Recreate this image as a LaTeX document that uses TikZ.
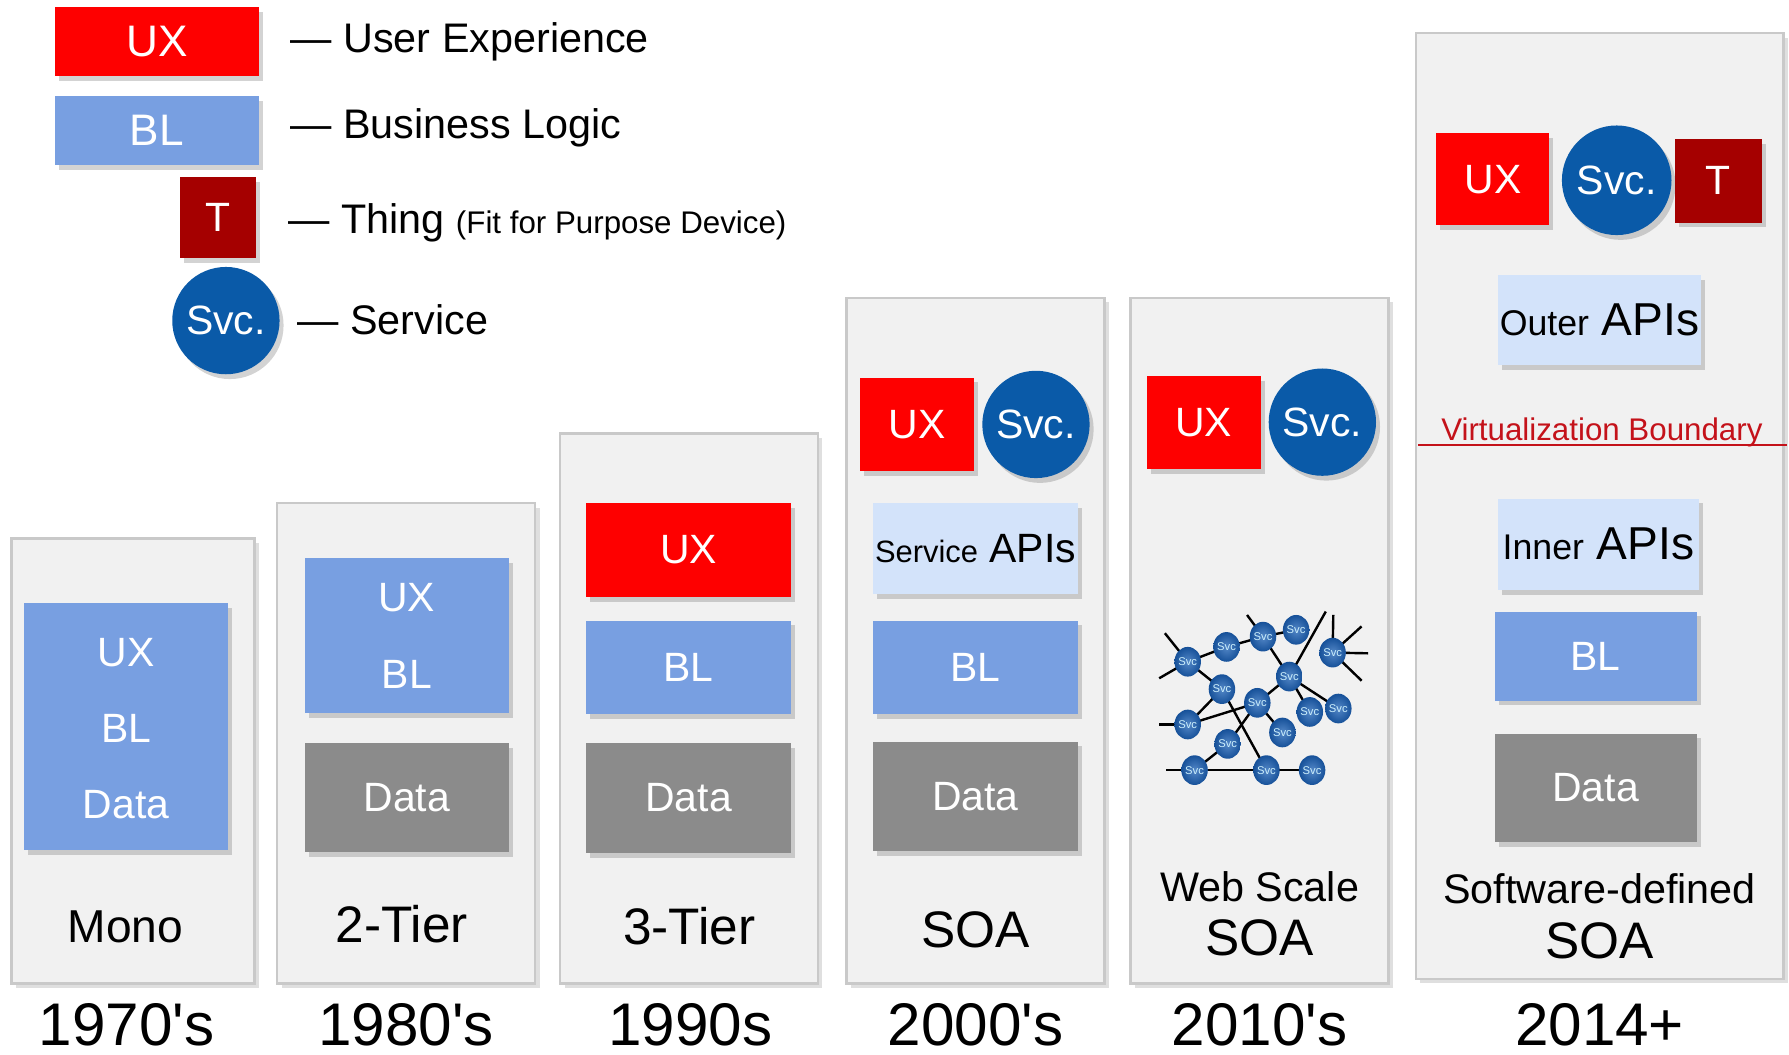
\documentclass[tikz,border=0pt]{standalone}
\usepackage{fontspec}
\setmainfont{Liberation Sans}
\usepackage{xcolor}
\usetikzlibrary{positioning,calc,shadows,shapes.geometric}

\definecolor{uxred}{HTML}{FE0000}
\definecolor{blblue}{HTML}{789FE1}
\definecolor{datagray}{HTML}{8B8B8B}
\definecolor{thingred}{HTML}{A50000}
\definecolor{svcblue}{HTML}{0A5AA8}
\definecolor{apiblue}{HTML}{D3E3FA}
\definecolor{panelfill}{HTML}{F1F1F1}
\definecolor{panelline}{HTML}{C9C9C9}
\definecolor{virtred}{HTML}{C4121A}
\definecolor{netblue}{HTML}{1A5FB4}

\begin{document}
\begin{tikzpicture}[x=0.01cm, y=-0.01cm,
    panel/.style={draw=panelline, fill=panelfill, line width=0.6pt,
      drop shadow={shadow xshift=1.1pt, shadow yshift=-1.1pt, opacity=0.25}},
    tierbox/.style={inner sep=0pt, text=white, font=\fontsize{10.2}{12}\selectfont,
      drop shadow={shadow xshift=1pt, shadow yshift=-1.2pt, opacity=0.35}},
    uxbox/.style={tierbox, fill=uxred},
    blbox/.style={tierbox, fill=blblue},
    databox/.style={tierbox, fill=datagray},
    thingbox/.style={tierbox, fill=thingred},
    apibox/.style={tierbox, fill=apiblue, text=black},
    svcball/.style={tierbox, circle, fill=svcblue, minimum size=0.94cm},
    boxtext/.style={text=white, inner sep=0pt, font=\fontsize{10.2}{12}\selectfont},
    legendtext/.style={anchor=base west, inner sep=0pt, font=\fontsize{10.3}{12}\selectfont},
    tierlabel/.style={inner sep=0pt, font=\fontsize{12.8}{15}\selectfont},
    yearlabel/.style={inner sep=0pt, font=\fontsize{15}{18}\selectfont},
    svcdot/.style={ellipse, minimum width=0.19cm, minimum height=0.26cm, inner sep=0pt,
      shading=radial, inner color=netblue!75!white, outer color=netblue!85!black,
      text=white!80!cyan, font=\fontsize{2.8}{3}\selectfont},
    netline/.style={line width=0.6pt, black}
  ]
    \useasboundingbox (0,0) rectangle (1568,924);

    % Legend
    \node[uxbox, minimum width=1.79cm, minimum height=0.61cm, font=\fontsize{11}{13}\selectfont] (lgux) at (137.5,36.5) {UX};
    \node[blbox, minimum width=1.79cm, minimum height=0.61cm, font=\fontsize{11}{13}\selectfont] (lgbl) at (137.5,114.5) {BL};
    \node[thingbox, minimum width=0.66cm, minimum height=0.71cm] (lgt) at (191,190.5) {T};
    \node[svcball] (lgsvc) at (198,281) {Svc.};

    \node[legendtext] (lguxtext) at (254,46) {— User Experience};
    \node[legendtext] (lgbltext) at (254,121) {— Business Logic};
    \node[legendtext] (lgttext) at (252,205) {— Thing {\fontsize{7.8}{9}\selectfont(Fit for Purpose Device)}};
    \node[legendtext] (lgsvctext) at (260,293) {— Service};

    % Panels
    \draw[panel] (10,472) rectangle (223,862);
    \draw[panel] (243,441) rectangle (469,862);
    \draw[panel] (491,380) rectangle (717,862);
    \draw[panel] (742,261) rectangle (968,862);
    \draw[panel] (991,261) rectangle (1217,862);
    \draw[panel] (1241,29) rectangle (1563,858);

    % Mono
    \node[blbox, minimum width=1.79cm, minimum height=2.16cm] (monobox) at (110.5,637) {};
    \node[boxtext] (monoux) at (110.5,572) {UX};
    \node[boxtext] (monobl) at (110.5,638) {BL};
    \node[boxtext] (monodata) at (110.5,705) {Data};
    \node[tierlabel, font=\fontsize{11.5}{14}\selectfont] (monolabel) at (110,812) {Mono};

    % 2-Tier
    \node[blbox, minimum width=1.79cm, minimum height=1.36cm] (twobl) at (356.5,557) {};
    \node[boxtext] (twouxtext) at (356.5,524) {UX};
    \node[boxtext] (twobltext) at (356.5,591) {BL};
    \node[databox, minimum width=1.79cm, minimum height=0.96cm] (twodata) at (356.5,699) {Data};
    \node[tierlabel] (twolabel) at (352,810) {2-Tier};

    % 3-Tier
    \node[uxbox, minimum width=1.79cm, minimum height=0.82cm] (threeux) at (603.5,482) {UX};
    \node[blbox, minimum width=1.79cm, minimum height=0.82cm] (threebl) at (603.5,585) {BL};
    \node[databox, minimum width=1.79cm, minimum height=0.97cm] (threedata) at (603.5,699.5) {Data};
    \node[tierlabel] (threelabel) at (604,812) {3-Tier};

    % SOA
    \node[uxbox, minimum width=1.00cm, minimum height=0.82cm] (soaux) at (804,372) {UX};
    \node[svcball] (soasvc) at (908,372) {Svc.};
    \node[apibox, minimum width=1.80cm, minimum height=0.80cm] (soaapi) at (855,481)
      {{\fontsize{7.7}{9}\selectfont Service} APIs};
    \node[blbox, minimum width=1.80cm, minimum height=0.82cm] (soabl) at (855,585) {BL};
    \node[databox, minimum width=1.80cm, minimum height=0.96cm] (soadata) at (855,698) {Data};
    \node[tierlabel] (soalabel) at (855,815) {SOA};

    % Web Scale SOA
    \node[uxbox, minimum width=1.00cm, minimum height=0.81cm] (webux) at (1055,370.5) {UX};
    \node[svcball] (websvc) at (1159,370) {Svc.};
    \coordinate (n1) at (1041,580);
    \coordinate (n2) at (1075,567);
    \coordinate (n3) at (1107,558);
    \coordinate (n4) at (1136,552);
    \coordinate (n5) at (1168,572);
    \coordinate (n6) at (1130,593);
    \coordinate (n7) at (1071,604);
    \coordinate (n8) at (1102,616);
    \coordinate (n9) at (1148,624);
    \coordinate (n10) at (1173,621);
    \coordinate (n11) at (1041,635);
    \coordinate (n12) at (1124,642);
    \coordinate (n13) at (1076,652);
    \coordinate (n14) at (1047,675);
    \coordinate (n15) at (1110,675);
    \coordinate (n16) at (1150,675);
    \coordinate (s3) at (1093,539);
    \coordinate (s6) at (1162,536);
    \coordinate (s1a) at (1021,555);
    \coordinate (s1b) at (1016,594.5);
    \coordinate (s11) at (1016,635);
    \coordinate (s14) at (1022,675);
    \coordinate (s5a) at (1168.6,539);
    \coordinate (s5b) at (1193.4,549);
    \coordinate (s5c) at (1199.2,572.6);
    \coordinate (s5d) at (1193.4,596.6);
    \foreach \a/\b in {n1/n2, n2/n3, n3/n4, n3/n6, n6/n8, n6/n9, n6/n10, n1/n7, n7/n11,
        n7/n15, n11/n8, n8/n12, n8/n13, n13/n14, n14/n15, n15/n16, n3/s3, n6/s6,
        n1/s1a, n1/s1b, n11/s11, n14/s14, n5/s5a, n5/s5b, n5/s5c, n5/s5d}
      \draw[netline] (\a) -- (\b);
    \foreach \i in {1,...,16}
      \node[svcdot] (dot\i) at (n\i) {Svc};
    \node[tierlabel, font=\fontsize{10.3}{12}\selectfont] (weblabel) at (1104,777) {Web Scale};
    \node[tierlabel] (websoa) at (1104,822) {SOA};

    % Software-defined SOA
    \node[uxbox, minimum width=0.99cm, minimum height=0.80cm] (sdux) at (1308.5,157) {UX};
    \node[svcball, minimum size=0.96cm] (sdsvc) at (1417,158) {Svc.};
    \node[thingbox, minimum width=0.76cm, minimum height=0.73cm] (sdt) at (1506,158.5) {T};
    \node[apibox, minimum width=1.78cm, minimum height=0.79cm, font=\fontsize{11.5}{13}\selectfont] (sdouter) at (1402,280.5)
      {{\fontsize{8.9}{10}\selectfont Outer} APIs};
    \coordinate (vbl) at (1243,390);
    \coordinate (vbr) at (1566,390);
    \draw[virtred, line width=0.7pt] (vbl) -- (vbr);
    \node[inner sep=0pt, anchor=base, text=virtred, font=\fontsize{7.8}{9}\selectfont] (vblabel) at (1404,386) {Virtualization Boundary};
    \node[apibox, minimum width=1.76cm, minimum height=0.80cm, font=\fontsize{11.5}{13}\selectfont] (sdinner) at (1401,477)
      {{\fontsize{8.9}{10}\selectfont Inner} APIs};
    \node[blbox, minimum width=1.77cm, minimum height=0.78cm] (sdbl) at (1398.5,575) {BL};
    \node[databox, minimum width=1.77cm, minimum height=0.95cm] (sddata) at (1398.5,690.5) {Data};
    \node[tierlabel, font=\fontsize{10.3}{12}\selectfont] (sdlabel) at (1402,779) {Software-defined};
    \node[tierlabel] (sdsoa) at (1402,825) {SOA};

    % Decades
    \node[yearlabel] (y1970) at (111,898) {1970\textquotesingle s};
    \node[yearlabel] (y1980) at (356,898) {1980\textquotesingle s};
    \node[yearlabel] (y1990) at (605,898) {1990s};
    \node[yearlabel] (y2000) at (855,898) {2000\textquotesingle s};
    \node[yearlabel] (y2010) at (1104,898) {2010\textquotesingle s};
    \node[yearlabel] (y2014) at (1402,898) {2014+};
\end{tikzpicture}
\end{document}
